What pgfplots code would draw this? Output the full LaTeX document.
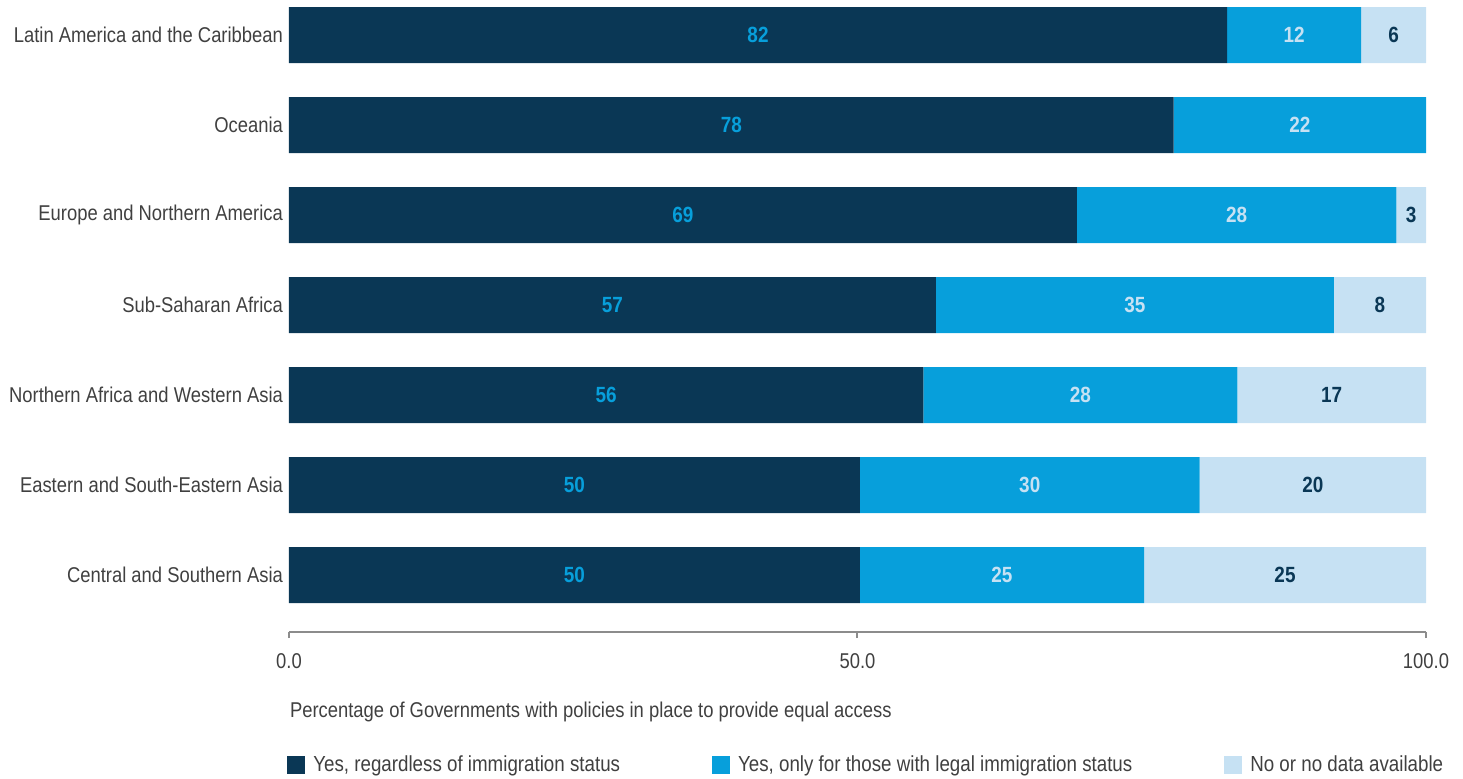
\documentclass[border=0pt]{standalone}
\usepackage{fontspec}
\setmainfont{Liberation Sans}[FakeStretch=0.86]
\usepackage{pgfplots}
\pgfplotsset{compat=1.18}
\definecolor{navy}{HTML}{0A3755}
\definecolor{midblue}{HTML}{079FDB}
\definecolor{lightblue}{HTML}{C6E1F3}
\definecolor{txt}{HTML}{404040}
\definecolor{axgray}{HTML}{8C8C8C}
\newcommand{\fs}{\fontsize{10.7}{12.8}\selectfont}
\begin{document}
\begin{tikzpicture}
\begin{axis}[
    name=ax, at={(0,0)}, anchor=south west,
    scale only axis, width=568.5pt, height=316pt,
    xbar stacked, bar width=28pt,
    xmin=0, xmax=100, ymin=-0.633, ymax=6.389,
    axis x line=bottom, axis y line=left,
    x axis line style={-, draw=axgray, line width=1pt},
    y axis line style={draw=none},
    xtick={0,50,100}, ytick={0,...,6},
    yticklabels={Central and Southern Asia, Eastern and South-Eastern Asia,
        Northern Africa and Western Asia, Sub-Saharan Africa,
        Europe and Northern America, Oceania, Latin America and the Caribbean},
    tick align=outside, major tick length=3pt,
    xtick style={draw=axgray, line width=1pt}, ytick style={draw=none},
    /pgf/number format/assume math mode=true,
    xticklabel style={/pgf/number format/fixed, /pgf/number format/fixed zerofill,
        /pgf/number format/precision=1, yshift=-4pt},
    yticklabel style={xshift=3.5pt},
    tick label style={font=\fs, text=txt},
    xlabel={Percentage of Governments with policies in place to provide equal access},
    xlabel style={at={(rel axis cs:0,0)}, anchor=west, yshift=-40pt, xshift=-3pt,
        font=\fs, text=txt},
    point meta=explicit symbolic,
    nodes near coords={\pgfplotspointmeta},
    every node near coord/.append style={anchor=center,
        font=\fontsize{11}{13}\selectfont\bfseries},
    legend columns=3,
    legend cell align=left,
    legend image code/.code={\fill[#1] (0pt,-4.5pt) rectangle (9pt,4.5pt);},
    legend style={at={(0,0)}, anchor=west, yshift=-66.5pt, xshift=-1pt,
        draw=none, inner sep=0pt, font=\fontsize{10.9}{13}\selectfont, text=txt,
        /tikz/every odd column/.append style={column sep=2pt},
        /tikz/every even column/.append style={column sep=44pt}},
]
\addplot[fill=navy, draw=none, every node near coord/.append style={text=midblue}]
    coordinates {(50.2,0)[50] (50.2,1)[50] (55.8,2)[56] (56.9,3)[57]
        (69.3,4)[69] (77.8,5)[78] (82.5,6)[82]};
\addplot[fill=midblue, draw=none, every node near coord/.append style={text=lightblue}]
    coordinates {(25.0,0)[25] (29.9,1)[30] (27.6,2)[28] (35.0,3)[35]
        (28.1,4)[28] (22.2,5)[22] (11.8,6)[12]};
\addplot[fill=lightblue, draw=none, every node near coord/.append style={text=navy}]
    coordinates {(24.8,0)[25] (19.9,1)[20] (16.6,2)[17] (8.1,3)[8]
        (2.6,4)[3] (0,5)[{}] (5.7,6)[6]};
\legend{{Yes, regardless of immigration status},
    {Yes, only for those with legal immigration status},
    {No or no data available}}
\end{axis}
\pgfresetboundingbox
\path[use as bounding box] ([shift={(-144.5pt,-73pt)}]ax.south west)
    rectangle ([shift={(587pt,316pt)}]ax.south west);
\end{tikzpicture}
\end{document}
